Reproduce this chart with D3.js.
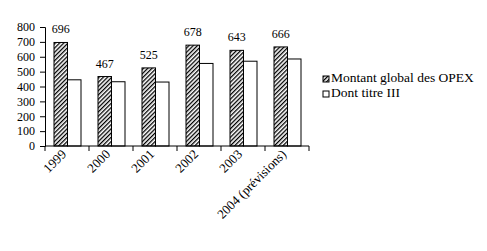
<!DOCTYPE html>
<html>
<head>
<meta charset="utf-8">
<script src="https://cdn.jsdelivr.net/npm/d3@7"></script>
<style>
  body { margin: 0; background: #fff; }
  svg text { font-family: "Liberation Serif", "Times New Roman", serif !important; fill: #000; }
</style>
</head>
<body>
<div id="chart"></div>
<script>
// Data
const years = ["1999", "2000", "2001", "2002", "2003", "2004 (prévisions)"];
const opexTotal = [696, 467, 525, 678, 643, 666];
const titreIII = [445, 432, 430, 555, 570, 585];
const seriesNames = ["Montant global des OPEX", "Dont titre III"];
const yTicks = [0, 100, 200, 300, 400, 500, 600, 700, 800];

const width = 487, height = 251;
const margin = { top: 27, left: 45, right: 178, bottom: 105 };
const plotW = width - margin.left - margin.right;
const plotH = height - margin.top - margin.bottom;
const serif = "Liberation Serif";

const svg = d3.select("#chart")
    .append("svg")
    .attr("width", width)
    .attr("height", height);

// Hatch pattern for the first series
const defs = svg.append("defs");
const pat = defs.append("pattern")
    .attr("id", "hatch")
    .attr("patternUnits", "userSpaceOnUse")
    .attr("width", 3)
    .attr("height", 3)
    .attr("patternTransform", "rotate(45)");
pat.append("rect").attr("width", 3).attr("height", 3).attr("fill", "#fff");
pat.append("rect").attr("width", 1.3).attr("height", 3).attr("fill", "#000");

const g = svg.append("g")
    .attr("transform", `translate(${margin.left},${margin.top})`);

const x = d3.scaleBand()
    .domain(years)
    .range([0, plotW])
    .paddingInner(0)
    .paddingOuter(0);

const inner = d3.scaleBand()
    .domain([0, 1])
    .range([9, x.bandwidth() - 8]);

const y = d3.scaleLinear()
    .domain([0, 800])
    .range([plotH, 0]);

// Y axis
const yAxis = g.append("g")
    .attr("font-family", serif)
    .call(d3.axisLeft(y).tickValues(yTicks).tickSize(5).tickPadding(5));
yAxis.select(".domain").attr("stroke", "#000");
yAxis.selectAll("text")
    .attr("font-family", serif)
    .style("font-size", "12px");

// Bars
const groups = g.selectAll(".grp")
    .data(years)
    .enter()
    .append("g")
    .attr("transform", d => `translate(${x(d)},0)`);

groups.append("rect")
    .attr("x", inner(0))
    .attr("y", (d, i) => y(opexTotal[i]))
    .attr("width", inner.bandwidth())
    .attr("height", (d, i) => plotH - y(opexTotal[i]))
    .attr("fill", "url(#hatch)")
    .attr("stroke", "#000")
    .attr("stroke-width", 1);

groups.append("rect")
    .attr("x", inner(1))
    .attr("y", (d, i) => y(titreIII[i]))
    .attr("width", inner.bandwidth())
    .attr("height", (d, i) => plotH - y(titreIII[i]))
    .attr("fill", "#fff")
    .attr("stroke", "#000")
    .attr("stroke-width", 1);

// Value labels on the first series
groups.append("text")
    .attr("x", inner(0) + inner.bandwidth() / 2)
    .attr("y", (d, i) => y(opexTotal[i]) - 9)
    .attr("text-anchor", "middle")
    .attr("font-family", serif)
    .attr("fill", "#000")
    .style("font-size", "12px")
    .text((d, i) => opexTotal[i]);

// X axis with ticks at category boundaries
const xAxis = g.append("g")
    .attr("transform", `translate(0,${plotH})`);
xAxis.append("line")
    .attr("x1", 0).attr("x2", plotW)
    .attr("stroke", "#000");
xAxis.selectAll(".tk")
    .data(d3.range(years.length + 1))
    .enter()
    .append("line")
    .attr("x1", i => i * x.step())
    .attr("x2", i => i * x.step())
    .attr("y1", 0).attr("y2", 5)
    .attr("stroke", "#000");
xAxis.selectAll(".lbl")
    .data(years)
    .enter()
    .append("text")
    .attr("text-anchor", "end")
    .attr("font-family", serif)
    .style("font-size", "13px")
    .attr("transform", d => `translate(${x(d) + x.bandwidth() / 2},${9}) rotate(-45)`)
    .text(d => d);

// Legend
const legend = svg.append("g")
    .attr("transform", "translate(323,76)");
const items = legend.selectAll(".item")
    .data(seriesNames)
    .enter()
    .append("g")
    .attr("transform", (d, i) => `translate(0,${i * 15})`);
items.append("rect")
    .attr("width", 6).attr("height", 6)
    .attr("fill", (d, i) => i === 0 ? "url(#hatch)" : "#fff")
    .attr("stroke", "#000");
items.append("text")
    .attr("x", 8)
    .attr("y", 6)
    .attr("font-family", serif)
    .style("font-size", "13.5px")
    .text(d => d);
</script>
</body>
</html>
